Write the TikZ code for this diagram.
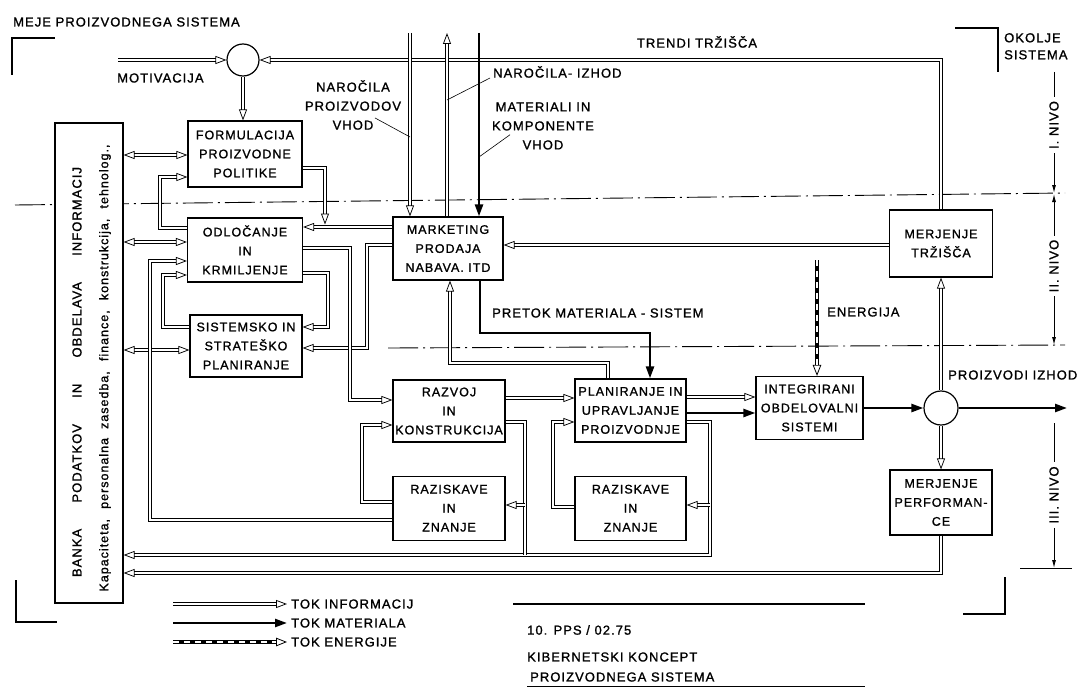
\documentclass[tikz,border=0pt]{standalone}
\usepackage{fontspec}
\setmainfont{Liberation Sans}[LetterSpace=8,FakeBold=1.2]
\usetikzlibrary{
  arrows.meta,
  positioning,  % below=of ...
}
\newcommand{\boxfont}{\fontsize{12.5}{19}\selectfont}
\newcommand{\lblfont}{\fontsize{13}{19}\selectfont}
\tikzset{
  font=\lblfont,
  semithick,
  itip/.tip={Triangle[open,length=11pt,width=8pt]},
  mtip/.tip={Triangle[length=12pt,width=8pt]},
  etip/.tip={Triangle[open,length=11pt,width=8.5pt,line width=0.8pt]},
  ntip/.tip={Latex[length=8pt,width=4pt]},
  info/.style={
    double,
    double distance=2.2pt,
    line width=0.75pt,
    -itip
  },
  info both/.style={info,itip-itip},
  info line/.style={info,-},
  matflow/.style={line width=2.4pt,-mtip},
  enflow/.style={
    line width=3.6pt,
    -etip,
    postaction={draw=white,line width=1.2pt,dash pattern=on 6pt off 5pt,-,shorten >=11pt}
  },
  block/.style={
    draw,
    fill=white,
    line width=1.2pt,
    align=center,
    inner sep=1pt,
    minimum width=112pt,
    minimum height=64pt,
    font=\boxfont
  },
  sum/.style={circle,draw,fill=white,line width=1.2pt,minimum size=32pt,inner sep=0pt},
  level/.style={line width=0.9pt,dash pattern=on 30pt off 5pt on 2pt off 5pt},
  nivo/.style={line width=0.9pt,-ntip},
  lead/.style={line width=0.6pt},
  corner/.style={line width=1.4pt},
  txt/.style={inner sep=0pt},
  lbl/.style={txt,anchor=west},
}

\begin{document}
\begin{tikzpicture}[x=1pt,y=-1pt]
\useasboundingbox (0,0) rectangle (1083,687);
% Level lines
\draw[level] (15,205) -- (1065,193);
\draw[level] (388,348) -- (1065,345);
% Boundary of the system
\node[lbl] (meje) at (13,22) {MEJE PROIZVODNEGA SISTEMA};
\draw[corner] (12,75) |- (55,38);
\draw[corner] (16,580) |- (57,622);
\draw[corner] (955,28) -| (998,72);
\draw[corner] (963,614) -| (1005,577);
\node[txt,anchor=north west,align=left,font=\fontsize{13}{17}\selectfont] (okolje) at (1004,33) {OKOLJE\\SISTEMA};
% Blocks
\node[block,minimum width=68pt,minimum height=480pt] (bank) at (89,363) {};
\node[txt,rotate=90] (bankt1) at (77,372) {\makebox[410pt][s]{BANKA PODATKOV IN OBDELAVA INFORMACIJ}};
\node[txt,rotate=90,font=\fontsize{12.5}{14}\selectfont] (bankt2) at (105,368) {\makebox[447pt][s]{Kapaciteta, personalna zasedba, finance, konstrukcija, tehnolog.,}};
\node[sum] (c1) at (243,60) {};
\node[block,minimum width=114pt,minimum height=66pt] (form) at (245,154) {FORMULACIJA\\PROIZVODNE\\POLITIKE};
\node[block,minimum width=115pt] (odl) at (245,250) {ODLOČANJE\\IN\\KRMILJENJE};
\node[block,minimum height=62pt] (sist) at (246,346) {SISTEMSKO IN\\STRATEŠKO\\PLANIRANJE};
\node[block,minimum width=110pt,minimum height=63pt] (mark) at (448,248.5) {MARKETING\\PRODAJA\\NABAVA. ITD};
\node[block,minimum width=103pt,minimum height=67pt] (mert) at (941,243.5) {MERJENJE\\TRŽIŠČA};
\node[block,minimum height=62pt] (razv) at (449,411) {RAZVOJ\\IN\\KONSTRUKCIJA};
\node[block] (raz1) [below=33pt of razv] {RAZISKAVE\\IN\\ZNANJE};
\node[block,minimum width=111pt,minimum height=63pt] (plan) at (630.5,410.5) {PLANIRANJE IN\\UPRAVLJANJE\\PROIZVODNJE};
\node[block,minimum width=111pt] (raz2) [below=33pt of plan] {RAZISKAVE\\IN\\ZNANJE};
\node[block,minimum width=107pt,minimum height=63pt] (int) at (809.5,408) {INTEGRIRANI\\OBDELOVALNI\\SISTEMI};
\node[sum,minimum size=34pt] (c2) at (941,408) {};
\node[block,minimum width=102pt,minimum height=65pt] (merp) at (941,502.5) {MERJENJE\\PERFORMAN-\\CE};
% Free ends
\coordinate (mot) at (118,60);
\coordinate (inA) at (410,33);
\coordinate (outA) at (447,33);
\coordinate (inM) at (479,33);
\coordinate (fdrop) at (325,224.5);
\coordinate (enA) at (817,260);
\coordinate (prodE) at (1067,408);
% Level I
\draw[info] (mot) -- (c1);
\node[lbl] (lmot) at (117,78) {MOTIVACIJA};
\draw[info] (mert.north) |- (c1);
\node[txt] (ltrend) at (697,42) {TRENDI TRŽIŠČA};
\draw[info] (c1.south) -- (c1.south |- form.north);
\draw[info both] (bank.east |- 0,155) -- (form.west |- 0,155);
\draw[info] (form.east |- 0,168) -| (fdrop);
% Orders and material into marketing
\draw[info] (inA) -- (inA |- mark.north);
\draw[info] (outA |- mark.north) -- (outA);
\draw[matflow] (inM) -- (inM |- mark.north);
\node[txt,align=center] (lnarv) at (353,105) {NAROČILA\\PROIZVODOV\\VHOD};
\draw[lead] (lnarv.south) ++(22,-12) -- (inA |- 0,137);
\node[lbl] (lizh) at (493,72) {NAROČILA- IZHOD};
\draw[lead] (lizh.west) ++(-3,6) -- (outA |- 0,100);
\node[txt,align=center] (lmatv) at (543,126) {MATERIALI IN\\KOMPONENTE\\VHOD};
\draw[lead] (lmatv.south) ++(-33,-15) -- (inM |- 0,157);
% Level II
\draw[info both] (bank.east |- 0,242) -- (odl.west |- 0,242);
\draw[info both] (bank.east |- 0,350) -- (sist.west |- 0,350);
\draw[info] (odl.west |- 0,228) -- (160,228) |- (form.west |- 0,177);
\draw[info] (mark.west |- 0,227) -- (odl.east |- 0,227);
\draw[info] (mark.west |- 0,245) -- (367,245) |- (sist.east |- 0,348);
\draw[info] (odl.east |- 0,248) -- (350,248) |- (razv.west |- 0,400);
\draw[info] (odl.east |- 0,273) -- (328,273) |- (sist.east |- 0,327);
\draw[info] (sist.west |- 0,327) -- (163,327) |- (odl.west |- 0,275);
\draw[info] (mert.west |- 0,245) -- (mark.east |- 0,245);
% Material flow to production
\draw[matflow] (480,0 |- mark.south) |- (650,333) -- (650,0 |- plan.north);
\node[lbl] (lpret) at (492,313) {PRETOK MATERIALA - SISTEM};
\draw[info] (608,0 |- plan.north) |- (450,363) -- (450,0 |- mark.south);
\draw[enflow] (enA) -- (enA |- int.north);
\node[lbl] (lener) at (827,312) {ENERGIJA};
% Level III
\draw[info] (raz1.west |- 0,520) -- (150,520) |- (odl.west |- 0,261);
\draw[info] (raz1.west |- 0,502) -- (362,502) |- (razv.west |- 0,425);
\draw[info] (plan.east |- 0,422) -- (710,422) |- (bank.east |- 0,555);
\draw[info line] (razv.east |- 0,422) -| (525,555);
\draw[info] (525,505) -- (raz1.east |- 0,505);
\draw[info] (710,505) -- (raz2.east |- 0,505);
\draw[info] (raz2.west |- 0,507) -- (553,507) |- (plan.west |- 0,422);
\draw[info] (razv.east |- 0,398) -- (plan.west |- 0,398);
\draw[info] (plan.east |- 0,397) -- (int.west |- 0,397);
\draw[matflow] (plan.east |- 0,413) -- (int.west |- 0,413);
\draw[matflow] (int) -- (c2);
\draw[matflow] (c2) -- (prodE);
\node[lbl] (lprod) at (948,375) {PROIZVODI IZHOD};
\draw[info] (c2) -- (mert);
\draw[info] (c2) -- (merp);
\draw[info] (merp) |- (bank.east |- 0,573);
% Levels on the right
\node[txt,rotate=90,inner sep=4pt] (niv1) at (1054,125) {I. NIVO};
\node[txt,rotate=90,inner sep=4pt] (niv2) at (1054,266) {II. NIVO};
\node[txt,rotate=90,inner sep=4pt] (niv3) at (1054,495) {III. NIVO};
\draw[nivo,-] (1054,72) -- (niv1.east);
\draw[nivo] (niv1.west) -- (1054,193);
\draw[nivo] (niv2.east) -- (1054,194);
\draw[nivo] (niv2.west) -- (1054,345);
\draw[nivo,-] (1054,423) -- (niv3.east);
\draw[nivo] (niv3.west) -- (1054,568);
\draw[line width=0.9pt] (1020,568) -- (1072,568);
% Legend
\node[lbl] (leg1) at (291,604) {TOK INFORMACIJ};
\node[lbl] (leg2) at (291,623) {TOK MATERIALA};
\node[lbl] (leg3) at (291,642) {TOK ENERGIJE};
\draw[info] (173,0 |- leg1.west) -- ([xshift=-4pt]leg1.west);
\draw[matflow] (173,0 |- leg2.west) -- ([xshift=-4pt]leg2.west);
\draw[enflow] (173,0 |- leg3.west) -- ([xshift=-4pt]leg3.west);
% Title block
\draw[line width=2.6pt] (513,604) -- (865,604);
\node[lbl] (tnum) at (527,630) {10. PPS / 02.75};
\node[lbl] (ttl1) at (527,657) {KIBERNETSKI KONCEPT};
\node[lbl] (ttl2) at (530,677) {PROIZVODNEGA SISTEMA};
\draw[line width=1pt] (527,686) -- (865,686);
\end{tikzpicture}
\end{document}
